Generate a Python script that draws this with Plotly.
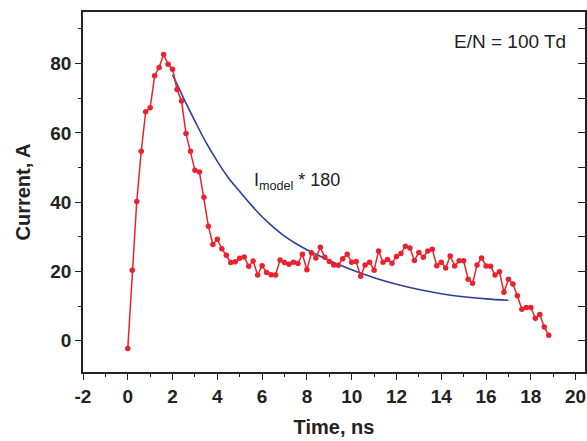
import plotly.graph_objects as go

time_ns = [0.0, 0.2, 0.4, 0.6, 0.8, 1.0, 1.2, 1.4, 1.6, 1.8,
           2.0, 2.2, 2.4, 2.6, 2.8, 3.0, 3.2, 3.4, 3.6, 3.8,
           4.0, 4.2, 4.4, 4.6, 4.8, 5.0, 5.2, 5.4, 5.6, 5.8,
           6.0, 6.2, 6.4, 6.6, 6.8, 7.0, 7.2, 7.4, 7.6, 7.8,
           8.0, 8.2, 8.4, 8.6, 8.8, 9.0, 9.2, 9.4, 9.6, 9.8,
           10.0, 10.2, 10.4, 10.6, 10.8, 11.0, 11.2, 11.4, 11.6, 11.8,
           12.0, 12.2, 12.4, 12.6, 12.8, 13.0, 13.2, 13.4, 13.6, 13.8,
           14.0, 14.2, 14.4, 14.6, 14.8, 15.0, 15.2, 15.4, 15.6, 15.8,
           16.0, 16.2, 16.4, 16.6, 16.8, 17.0, 17.2, 17.4, 17.6, 17.8,
           18.0, 18.2, 18.4, 18.6, 18.8]
current_A = [-2.2, 20.4, 40.2, 54.7, 66.1, 67.3, 76.5, 78.9, 82.6, 79.8,
             78.4, 72.5, 69.2, 59.8, 54.7, 49.2, 48.7, 41.4, 33.1, 27.8,
             29.3, 26.6, 24.7, 22.6, 22.8, 23.8, 24.2, 21.5, 23.0, 19.0,
             21.7, 19.7, 19.1, 19.0, 23.3, 22.6, 22.1, 22.7, 22.3, 25.0,
             20.5, 25.4, 23.9, 27.0, 24.1, 22.9, 21.9, 21.8, 23.7, 25.0,
             22.7, 22.9, 18.6, 21.9, 22.7, 20.4, 25.9, 22.7, 23.5, 22.4,
             24.3, 25.2, 27.3, 26.8, 23.2, 25.5, 24.1, 25.9, 26.4, 21.7,
             22.7, 21.0, 24.5, 21.6, 23.1, 23.1, 17.8, 16.6, 21.9, 23.9,
             21.6, 21.5, 19.0, 19.9, 14.0, 17.8, 16.4, 13.0, 9.1, 9.6,
             9.6, 6.5, 7.6, 4.0, 1.6]

model_time = [2.0, 2.5, 3.0, 3.5, 4.0, 4.5, 5.0, 5.5, 6.0, 6.5, 7.0, 7.5,
              8.0, 8.5, 9.0, 9.5, 10.0, 11.0, 12.0, 13.0, 14.0, 15.0, 16.0, 17.0]
model_current = [76.8, 69.9, 63.4, 57.2, 51.8, 47.0, 43.1, 39.3, 35.8, 32.8, 30.2, 28.1,
                 26.3, 24.7, 23.2, 21.8, 20.5, 18.2, 16.3, 14.8, 13.6, 12.7, 12.1, 11.7]

x_ticks = [-2, 0, 2, 4, 6, 8, 10, 12, 14, 16, 18, 20]
y_ticks = [0, 20, 40, 60, 80]

FONT = "Liberation Sans, Arial, sans-serif"
RED = "#e8232d"
BLUE = "#2e3d9c"

fig = go.Figure()
fig.add_trace(go.Scatter(
    x=model_time, y=model_current, mode="lines",
    line=dict(color=BLUE, width=1.6, shape="spline"),
    showlegend=False, hoverinfo="skip"))
fig.add_trace(go.Scatter(
    x=time_ns, y=current_A, mode="lines+markers",
    line=dict(color=RED, width=1.5),
    marker=dict(color=RED, size=5.5),
    showlegend=False))
# carrier for the right-hand inward ticks
fig.add_trace(go.Scatter(
    x=time_ns, y=current_A, yaxis="y2", mode="lines",
    line=dict(width=0, color="rgba(0,0,0,0)"),
    showlegend=False, hoverinfo="skip"))

fig.add_annotation(x=5.55, y=46.0, xref="x", yref="y", xanchor="left", yanchor="middle",
                   text="I<sub>model</sub> * 180", showarrow=False,
                   font=dict(family=FONT, size=18, color="#222"))
fig.add_annotation(x=19.65, y=86.3, xref="x", yref="y", xanchor="right", yanchor="middle",
                   text="E/N = 100 Td", showarrow=False,
                   font=dict(family=FONT, size=19, color="#222"))

fig.update_layout(
    width=587, height=441,
    margin=dict(l=83, r=2, t=12, b=69, autoexpand=False),
    paper_bgcolor="white", plot_bgcolor="white",
    font=dict(family=FONT, color="#222"),
    xaxis=dict(
        range=[-2, 20.42], tickvals=x_ticks, ticktext=[str(v) for v in x_ticks],
        ticks="outside", ticklen=6, tickwidth=1.3, tickcolor="#222",
        minor=dict(ticks="outside", ticklen=3, dtick=1, tick0=0, tickcolor="#222", tickwidth=1.3),
        showline=True, linecolor="#222", linewidth=1.5, mirror=True,
        showgrid=False, zeroline=False, automargin=False,
        tickfont=dict(family=FONT, size=19, color="#222", weight="bold"),
        title=dict(text="<b>Time, ns</b>", font=dict(family=FONT, size=20, color="#222"), standoff=14),
    ),
    yaxis=dict(
        range=[-9.0, 94.9], tickvals=y_ticks, ticktext=[str(v) for v in y_ticks],
        ticks="outside", ticklen=6, tickwidth=1.3, tickcolor="#222",
        minor=dict(ticks="outside", ticklen=3, dtick=10, tick0=0, tickcolor="#222", tickwidth=1.3),
        showline=True, linecolor="#222", linewidth=1.5, mirror=True,
        showgrid=False, zeroline=False, automargin=False,
        tickfont=dict(family=FONT, size=19, color="#222", weight="bold"),
        title=dict(text="<b>Current, A</b>", font=dict(family=FONT, size=20, color="#222"), standoff=14),
    ),
    yaxis2=dict(
        overlaying="y", side="right", range=[-9.0, 94.9], dtick=10, tick0=0,
        ticks="inside", ticklen=7, tickwidth=1.3, tickcolor="#222",
        showticklabels=False, showline=False, showgrid=False, zeroline=False,
        automargin=False,
    ),
)

fig.write_html("out.html", config={"displayModeBar": False},
               post_script="document.body.style.margin='0';document.body.style.overflow='hidden';")
